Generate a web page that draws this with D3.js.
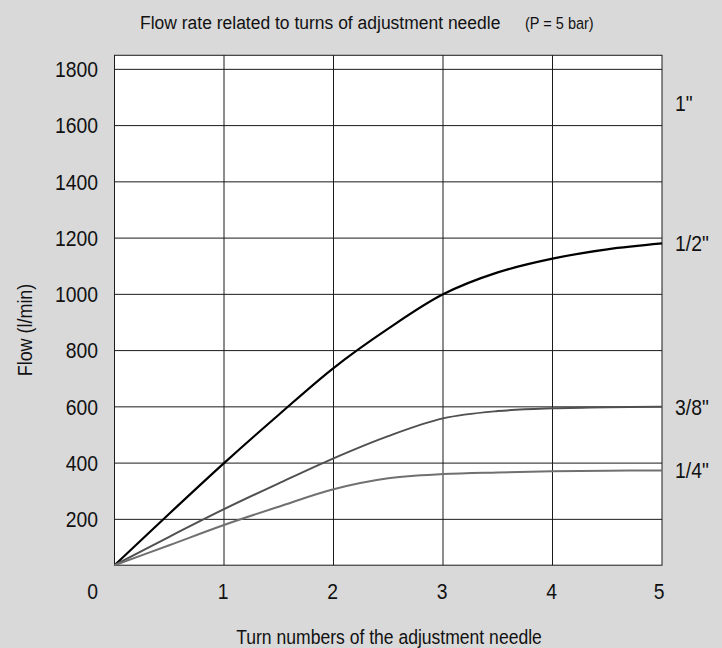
<!DOCTYPE html>
<html>
<head>
<meta charset="utf-8">
<script src="https://cdn.jsdelivr.net/npm/d3@7"></script>
<style>
  html, body { margin: 0; padding: 0; background: #d9d9d9; }
  svg { display: block; }
  text { font-family: 'Liberation Sans', Arial, sans-serif; fill: #111; }
</style>
</head>
<body>
<script>
const WIDTH = 722;
const HEIGHT = 648;

// turns of the adjustment needle
var turns = [0, 0.5, 1, 1.5, 2, 2.5, 3, 3.5, 4, 4.5, 5];
// flow (l/min) for each pipe size
var flowHalf = [37, 220, 400, 572, 738, 878, 1000, 1078, 1127, 1160, 1181];
var flowThreeEighths = [37, 138, 236, 328, 417, 496, 559, 585, 595, 599, 600];
var flowQuarter = [37, 108, 180, 245, 307, 346, 361, 367, 371, 373, 374];

var sizeLabels = ['1"', '1/2"', '3/8"', '1/4"'];
var sizeLabelValues = [1680, 1181, 600, 374];

var xTicks = [0, 1, 2, 3, 4, 5];
var yTicks = [200, 400, 600, 800, 1000, 1200, 1400, 1600, 1800];

var series = [
    {values: flowHalf, color: '#000', width: 2.2},
    {values: flowThreeEighths, color: '#505050', width: 2},
    {values: flowQuarter, color: '#707070', width: 2}
];

var svg = d3.select('body').append('svg')
    .attr('width', WIDTH)
    .attr('height', HEIGHT);

var x = d3.scaleLinear().domain([0, 5]).range([114.5, 662]);
var y = d3.scaleLinear().domain([0, 1800]).range([575.6, 69.35]);
var yBottom = 37, yTop = 1850;

// the original lettering is condensed, so squeeze it horizontally
var label = function(parent, tx, ty, size, squeeze, str, anchor, rotate) {
    return parent.append('text')
        .attr('transform', 'translate(' + tx + ',' + ty + ')' + (rotate ? ' rotate(' + rotate + ')' : '') + ' scale(' + squeeze + ',1)')
        .attr('dy', '0.35em')
        .attr('text-anchor', anchor || 'start')
        .style('font-size', size + 'px')
        .text(str);
};

// plot area
svg.append('rect')
    .attr('x', x(0))
    .attr('y', y(yTop))
    .attr('width', x(5) - x(0))
    .attr('height', y(yBottom) - y(yTop))
    .attr('fill', '#fff');

var grid = svg.append('g').attr('stroke', '#1a1a1a').attr('stroke-width', 1);
grid.selectAll('line.h')
    .data(yTicks)
    .enter().append('line')
    .attr('class', 'h')
    .attr('x1', x(0)).attr('x2', x(5))
    .attr('y1', function(d) { return y(d); })
    .attr('y2', function(d) { return y(d); });
grid.selectAll('line.v')
    .data([1, 2, 3, 4])
    .enter().append('line')
    .attr('class', 'v')
    .attr('x1', function(d) { return x(d); })
    .attr('x2', function(d) { return x(d); })
    .attr('y1', y(yTop)).attr('y2', y(yBottom));

svg.append('rect')
    .attr('x', x(0))
    .attr('y', y(yTop))
    .attr('width', x(5) - x(0))
    .attr('height', y(yBottom) - y(yTop))
    .attr('fill', 'none')
    .attr('stroke', '#1a1a1a')
    .attr('stroke-width', 1);

// curves
var line = d3.line()
    .x(function(d, i) { return x(turns[i]); })
    .y(function(d) { return y(d); })
    .curve(d3.curveCatmullRom.alpha(0.5));

svg.selectAll('path.flow')
    .data(series)
    .enter().append('path')
    .attr('class', 'flow')
    .attr('d', function(s) { return line(s.values); })
    .attr('fill', 'none')
    .attr('stroke', function(s) { return s.color; })
    .attr('stroke-width', function(s) { return s.width; });

// y tick labels
yTicks.forEach(function(d) {
    label(svg, 98, y(d), 22.5, 0.86, d, 'end');
});

// x tick labels (0 sits at the shared origin, left of the frame)
xTicks.forEach(function(d) {
    var px = d === 0 ? x(0) - 22 : (d === 5 ? x(d) - 3 : x(d) - 1);
    label(svg, px, 591, 22.5, 0.86, d, 'middle');
});

// size labels on the right
sizeLabels.forEach(function(d, i) {
    label(svg, 675, y(sizeLabelValues[i]), 22.5, 0.86, d);
});

// titles
label(svg, 140, 22, 19, 0.92, 'Flow rate related to turns of adjustment needle');
label(svg, 525, 23, 16.5, 0.88, '(P = 5 bar)');
label(svg, 25, 330, 19.5, 0.92, 'Flow (l/min)', 'middle', -90);
label(svg, 389, 637, 19.5, 0.9, 'Turn numbers of the adjustment needle', 'middle');
</script>
</body>
</html>
